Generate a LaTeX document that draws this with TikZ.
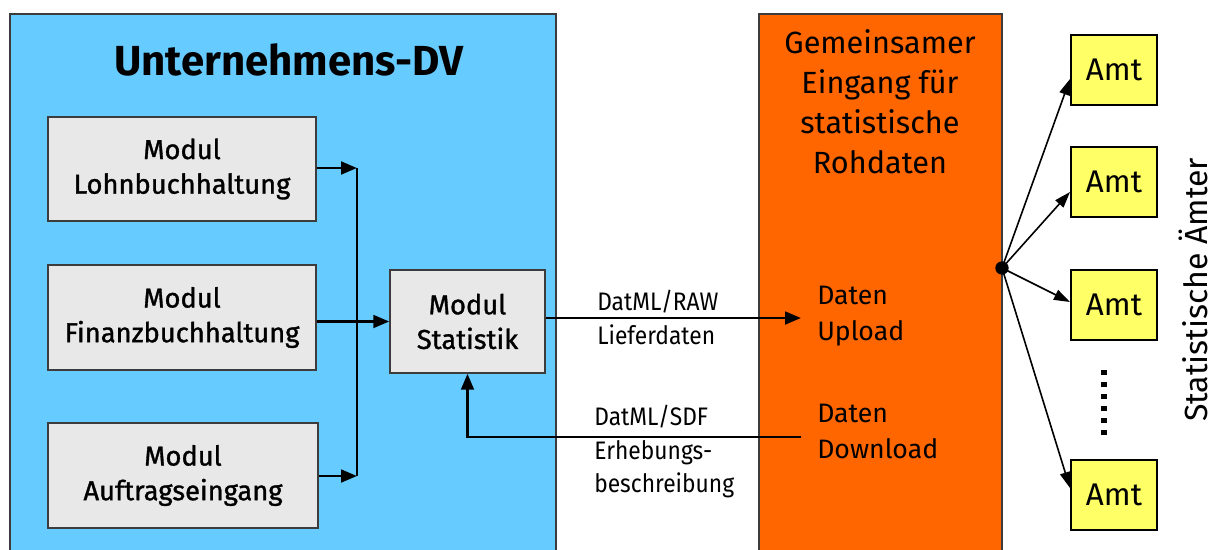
\documentclass[tikz,border=0pt]{standalone}
\usepackage{fontspec}
\setmainfont{Fira Sans}
\newfontfamily\modfont[FakeBold=1.2]{Fira Sans}
\newfontfamily\narrowfont[FakeStretch=0.9]{Fira Sans}
\usetikzlibrary{arrows.meta,calc}

\definecolor{dvblue}{RGB}{102,204,255}
\definecolor{inorange}{RGB}{255,102,0}
\definecolor{modgray}{RGB}{232,232,232}
\definecolor{amtyellow}{RGB}{255,255,102}
\definecolor{rimgray}{RGB}{60,60,60}

\tikzset{
  area/.style={draw=rimgray, line width=1pt},
  modbox/.style={draw=rimgray, line width=1.3pt, fill=modgray, align=center,
    inner sep=0pt, font=\modfont\fontsize{20.5}{26}\selectfont},
  amtbox/.style={draw=black, line width=1.5pt, fill=amtyellow, inner sep=0pt,
    minimum width=64.5pt, minimum height=52.5pt, font=\fontsize{23.5}{26}\selectfont},
  flow/.style={line width=2.1pt, -{Triangle[length=12pt,width=9.5pt]}},
  fan/.style={line width=1.2pt, -{Triangle[length=12pt,width=8pt]}},
  plain/.style={line width=2.1pt},
  lbl/.style={anchor=north west, align=left, inner sep=0pt,
    font=\narrowfont\fontsize{19}{25}\selectfont},
  inlbl/.style={anchor=north west, align=left, inner sep=0pt,
    font=\fontsize{20}{27}\selectfont}
}

\begin{document}
\begin{tikzpicture}[x=0.75pt, y=-0.75pt]
  \useasboundingbox (0,0) rectangle (1211,550);
  \fill[white] (0,0) rectangle (1211,550);

  % company IT area and the common data entry
  \draw[area, fill=dvblue] (10,14) rectangle (556,556);
  \draw[area, fill=inorange] (759,14) rectangle (1002,556);

  \node[font=\bfseries\fontsize{31.5}{36}\selectfont] (title) at (289,60) {Unternehmens-DV};

  % modules
  \node[modbox, minimum width=201pt, minimum height=78pt] (lohn) at (182,169)
    {Modul\\Lohnbuchhaltung};
  \node[modbox, minimum width=201pt, minimum height=78.5pt] (fin) at (182,317.5)
    {Modul\\Finanzbuchhaltung};
  \node[modbox, minimum width=202.5pt, minimum height=78.5pt] (auf) at (183,475.5)
    {Modul\\Auftragseingang};
  \node[modbox, minimum width=116pt, minimum height=77pt] (stat) at (467.5,321.5)
    {Modul\\Statistik};

  % collecting bus
  \coordinate (jtop) at (357,168);
  \coordinate (jbot) at (357,476);
  \draw[plain] (jtop) -- (jbot);
  \draw[flow] (lohn.east |- jtop) -- (jtop);
  \draw[flow] (auf.east |- jbot) -- (jbot);
  \draw[flow] (fin.east |- stat.west) -- (stat.west);

  % upload and download
  \coordinate (upl) at (801,318);
  \coordinate (dnl) at (801,437);
  \draw[flow] (stat.east |- upl) -- (upl);
  \draw[flow] (dnl) -- (stat.south |- dnl) -- (stat.south);

  \node[lbl] (raw) at (597,290) {DatML/RAW\\Lieferdaten};
  \node[lbl] (sdf) at (594,405) {DatML/SDF\\Erhebungs-\\beschreibung};

  \node[align=center, inner sep=0pt, font=\fontsize{23}{30}\selectfont] (entry) at (880,102)
    {Gemeinsamer\\Eingang für\\statistische\\Rohdaten};
  \node[inlbl] (up) at (817,286) {Daten\\Upload};
  \node[inlbl] (down) at (817,404) {Daten\\Download};

  % statistical offices
  \node[amtbox] (amt1) at (1114,70) {Amt};
  \node[amtbox] (amt2) at (1114,182) {Amt};
  \node[amtbox] (amt3) at (1114,305) {Amt};
  \node[amtbox] (amt4) at (1114,495) {Amt};

  \coordinate (hub) at (1002,268);
  \fill (hub) circle (5pt);
  \draw[fan] (hub) -- ($(amt1.west)+(0,9)$);
  \draw[fan] (hub) -- ($(amt2.west)+(0,10)$);
  \draw[fan] (hub) -- ($(amt3.west)+(0,-3)$);
  \draw[fan] (hub) -- ($(amt4.west)+(0,-7)$);

  \draw[line width=4pt, dash pattern=on 3.5pt off 5.5pt] (1104,370) -- (1104,436);

  \node[rotate=90, inner sep=0pt, font=\fontsize{24}{28}\selectfont] (offices) at (1193,290)
    {Statistische Ämter};
\end{tikzpicture}
\end{document}
